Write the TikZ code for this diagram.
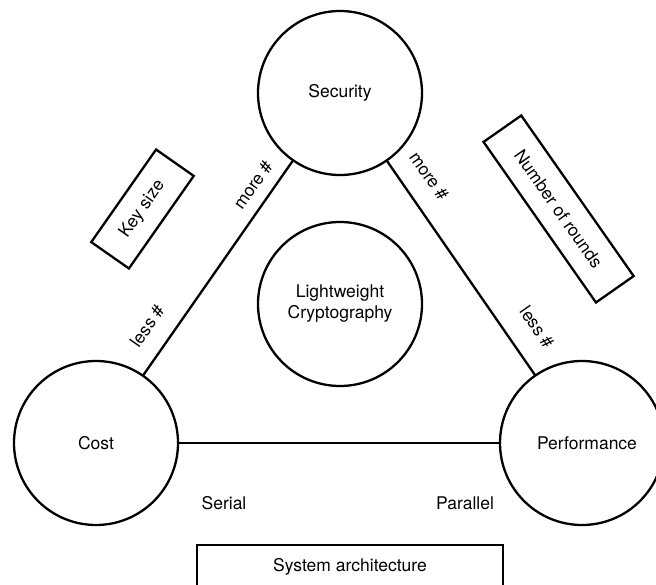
\documentclass[tikz,border=0pt]{standalone}
\usepackage{fontspec}
\setmainfont{TeX Gyre Heros}
\begin{document}
\begin{tikzpicture}[x=1pt,y=-1pt,
  every node/.style={font=\fontsize{17.5}{21}\selectfont},
  bubble/.style={draw,circle,line width=2.3pt,minimum size=164pt,inner sep=0pt},
  tagbox/.style={draw,rectangle,line width=2.3pt,inner sep=0pt},
  link/.style={line width=2.3pt},
  lbl/.style={inner sep=1pt}]
\useasboundingbox (0,0) rectangle (656,585);
\clip (0,0) rectangle (656,585);
\node[bubble] (sec) at (340,93) {Security};
\node[bubble,align=center] (lw) at (340,304) {Lightweight\\Cryptography};
\node[bubble] (cost) at (96,443) {Cost};
\node[bubble] (perf) at (582,443) {\hspace*{10pt}Performance};
\draw[link] (cost) -- (sec);
\draw[link] (sec) -- (perf);
\draw[link] (cost) -- (perf);
\node[tagbox,rotate=55,minimum width=113pt,minimum height=46pt] (key) at (142.5,209) {Key size};
\node[tagbox,rotate=-55,minimum width=196pt,minimum height=46pt] (rounds) at (558.6,209) {Number of rounds};
\node[tagbox,minimum width=306pt,minimum height=43pt] (arch) at (350,566.5) {System architecture};
\node[lbl,rotate=55] (m1) at (253,185) {more \#};
\node[lbl,rotate=-55] (m2) at (429,176) {more \#};
\node[lbl,rotate=55] (l1) at (147,326) {less \#};
\node[lbl,rotate=-55] (l2) at (537,327) {less \#};
\node[lbl] (ser) at (224,503) {Serial};
\node[lbl] (par) at (465,503) {Parallel};
\end{tikzpicture}
\end{document}
